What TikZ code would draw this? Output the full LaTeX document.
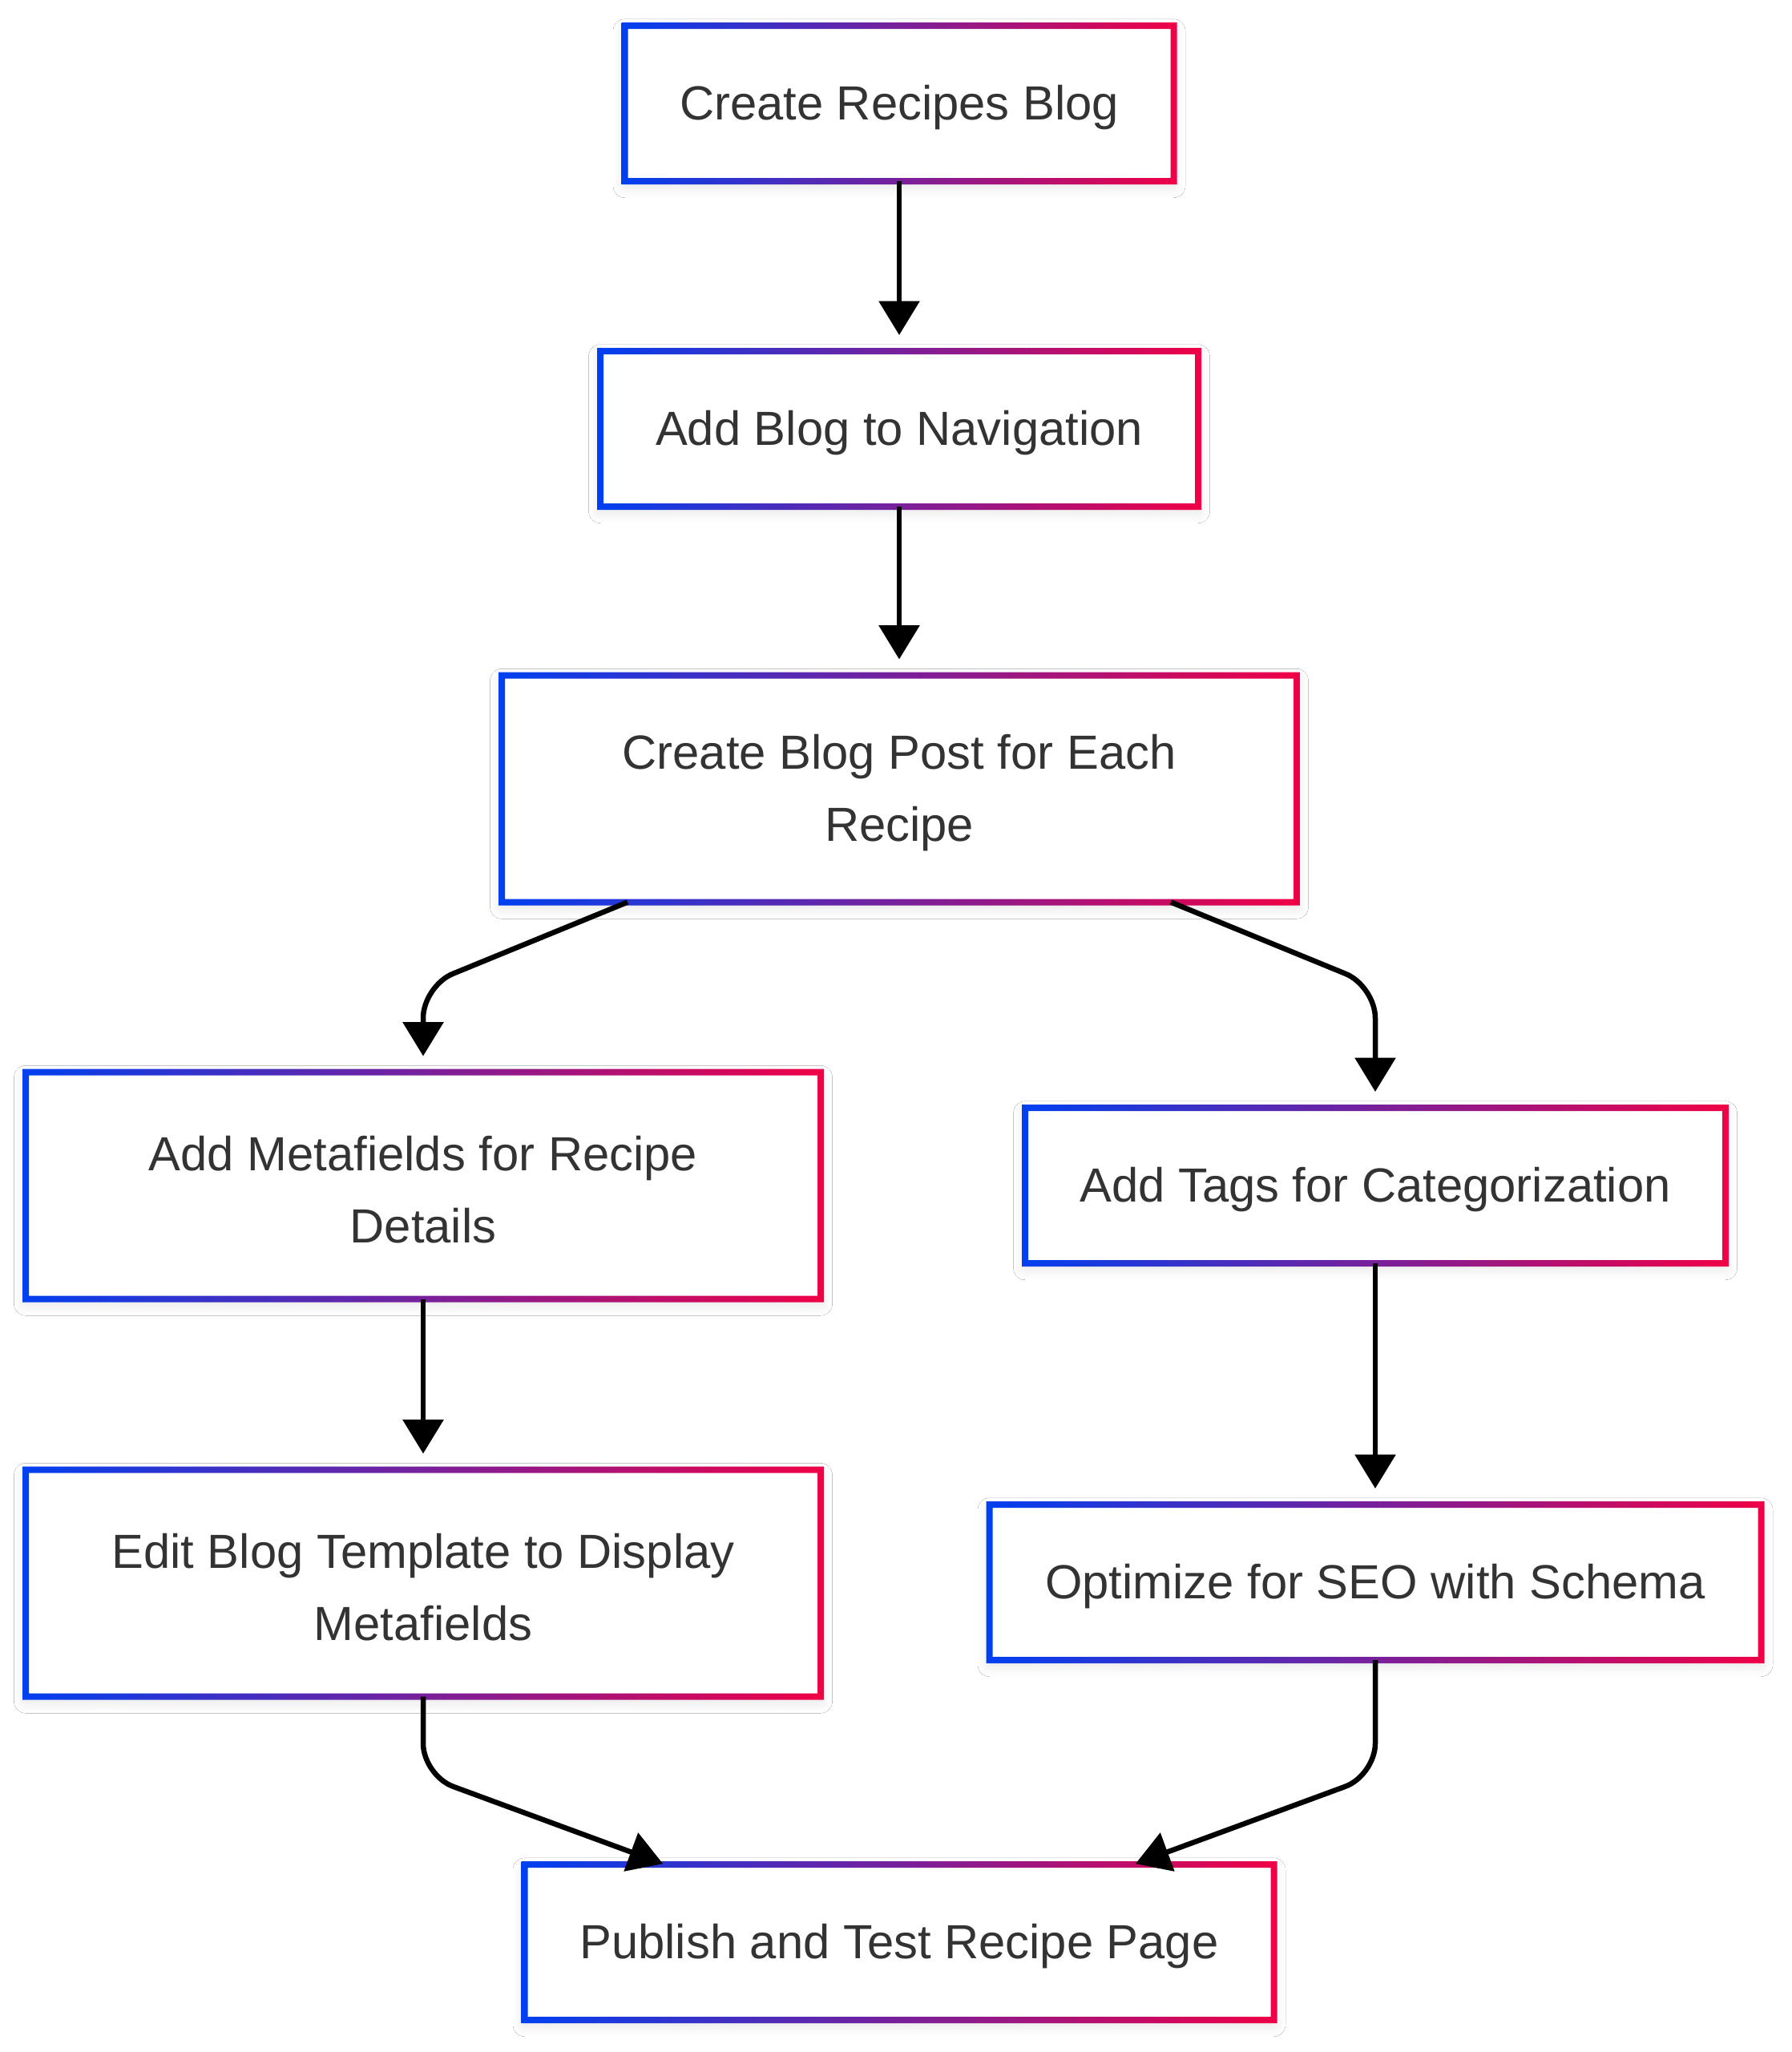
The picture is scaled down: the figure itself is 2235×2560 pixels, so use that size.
\documentclass[tikz,border=0pt]{standalone}
\usepackage{fontspec}
\setmainfont{Liberation Sans}
\usetikzlibrary{arrows.meta,shadows.blur}
\definecolor{cblue}{RGB}{0,64,240}
\definecolor{cred}{RGB}{240,0,70}
\definecolor{ctext}{RGB}{51,51,51}
\newcommand\upstrut{\rule{0pt}{21.5pt}}
\tikzset{
  box/.style 2 args={minimum width=#1*0.4pt, minimum height=#2*0.4pt, inner sep=0pt,
    fill=white, align=center, text=ctext, font=\fontsize{23.9}{36}\selectfont,
    execute at begin node={\upstrut},
    blur shadow={shadow xshift=0pt, shadow yshift=-2.5pt, shadow blur radius=6pt, shadow blur steps=10, shadow opacity=12}},
  arr/.style={line width=2.6pt, -{Triangle[length=17pt,width=20pt]}, shorten >=8pt},
  arrd/.style={line width=2.6pt, -{Triangle[length=17pt,width=20pt]}, shorten >=1pt, rounded corners=16pt},
}
\newcommand\gborder[1]{%
  \shade[left color=cblue, right color=cred, even odd rule]
    ([shift={(-1.6pt,1.6pt)}]#1.north west) rectangle ([shift={(1.6pt,-1.6pt)}]#1.south east)
    ([shift={(1.6pt,-1.6pt)}]#1.north west) rectangle ([shift={(-1.6pt,1.6pt)}]#1.south east);}
\begin{document}
\begin{tikzpicture}[x=0.4pt,y=-0.4pt]
  \useasboundingbox[fill=white] (0,0) rectangle (2235,2560);
  \node[box={684}{193}] (A) at (1122,129) {Create Recipes Blog};
  \node[box={745}{193}] (B) at (1122,535) {Add Blog to Navigation};
  \node[box={991}{282}] (C) at (1122,984) {\upstrut Create Blog Post for Each\\Recipe};
  \node[box={991}{282}] (D) at (528,1479) {\upstrut Add Metafields for Recipe\\Details};
  \node[box={873}{193}] (E) at (1716,1479) {Add Tags for Categorization};
  \node[box={991}{282}] (F) at (528,1975) {\upstrut Edit Blog Template to Display\\Metafields};
  \node[box={962}{193}] (G) at (1716,1974) {Optimize for SEO with Schema};
  \node[box={934}{193}] (H) at (1122,2423) {Publish and Test Recipe Page};
  \foreach \n in {A,B,C,D,E,F,G,H} {\gborder{\n}}
  \draw[arr] (A.south) -- (B.north);
  \draw[arr] (B.south) -- (C.north);
  \draw[arr, rounded corners=16pt] ([xshift=62.8pt]C.south west) -- (528,1230) -- (D.north);
  \draw[arr, rounded corners=16pt] ([xshift=-62.8pt]C.south east) -- (1716,1230) -- (E.north);
  \draw[arr] (D.south) -- (F.north);
  \draw[arr] (E.south) -- (G.north);
  \draw[arrd] (F.south) -- (528,2215) -- ([xshift=70pt]H.north west);
  \draw[arrd] (G.south) -- (1716,2215) -- ([xshift=-70pt]H.north east);
\end{tikzpicture}
\end{document}
